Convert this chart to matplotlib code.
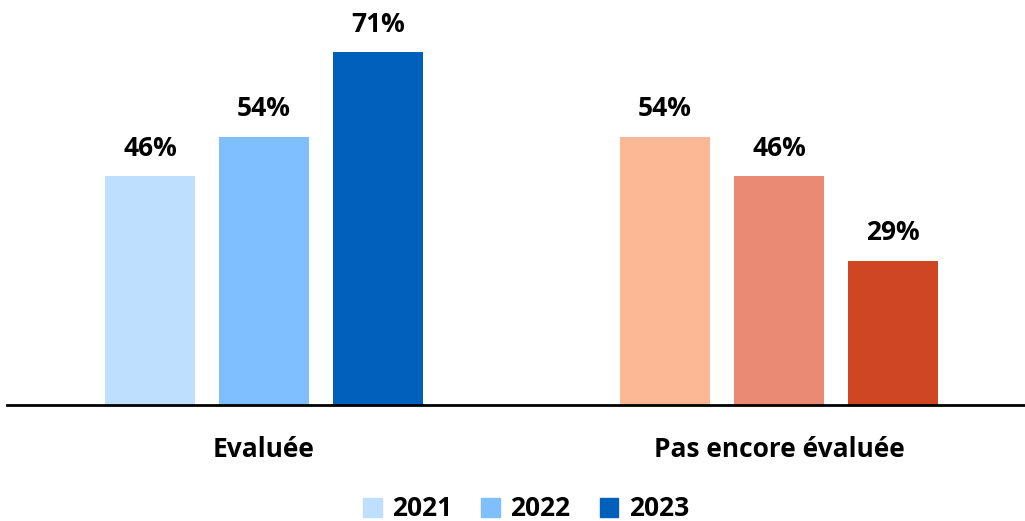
import matplotlib.pyplot as plt
from matplotlib.patches import Patch

categories = ["Evaluée", "Pas encore évaluée"]
years = ["2021", "2022", "2023"]
values = {
    "Evaluée": [46, 54, 71],
    "Pas encore évaluée": [54, 46, 29],
}
labels = {
    "Evaluée": ["46%", "54%", "71%"],
    "Pas encore évaluée": ["54%", "46%", "29%"],
}
blue_colors = ["#BFDFFF", "#80BFFF", "#0060BB"]
orange_colors = ["#FCB894", "#E98A74", "#CF4722"]

plt.rcParams['font.family'] = ['Open Sans', 'DejaVu Sans']

fig = plt.figure(figsize=(10.25, 5.21), dpi=100)
ax = fig.add_axes([7/1025, 116/521, 1018/1025, 405/521])

step = 114/515
width = 90/515
color_sets = [blue_colors, orange_colors]
for gi, cat in enumerate(categories):
    for i, v in enumerate(values[cat]):
        x = gi + (i - 1) * step
        ax.bar(x, v, width=width, color=color_sets[gi][i])
        ax.annotate(labels[cat][i], (x, v), xytext=(0, 10.5), textcoords='offset points',
                    ha='center', va='bottom', fontsize=19, fontweight='bold', color='black')

ax.set_xlim(-257/515, 761/515)
ax.set_ylim(0, 405/4.97)
ax.set_xticks([0, 1])
ax.set_xticklabels(categories, fontsize=19, fontweight='bold')
ax.tick_params(axis='x', length=0, pad=22)
ax.set_yticks([])
for s in ['top', 'right', 'left']:
    ax.spines[s].set_visible(False)
ax.spines['bottom'].set_linewidth(2)
ax.spines['bottom'].set_color('black')

handles = [Patch(color=c) for c in blue_colors]
fig.legend(handles, years, loc='center', bbox_to_anchor=(526/1025, 1 - 509/521), ncol=3,
           frameon=False, prop={'size': 19, 'weight': 'bold'},
           handlelength=0.7, handleheight=0.7, handletextpad=0.4, columnspacing=1.1)

fig.savefig('out.png', dpi=100)
